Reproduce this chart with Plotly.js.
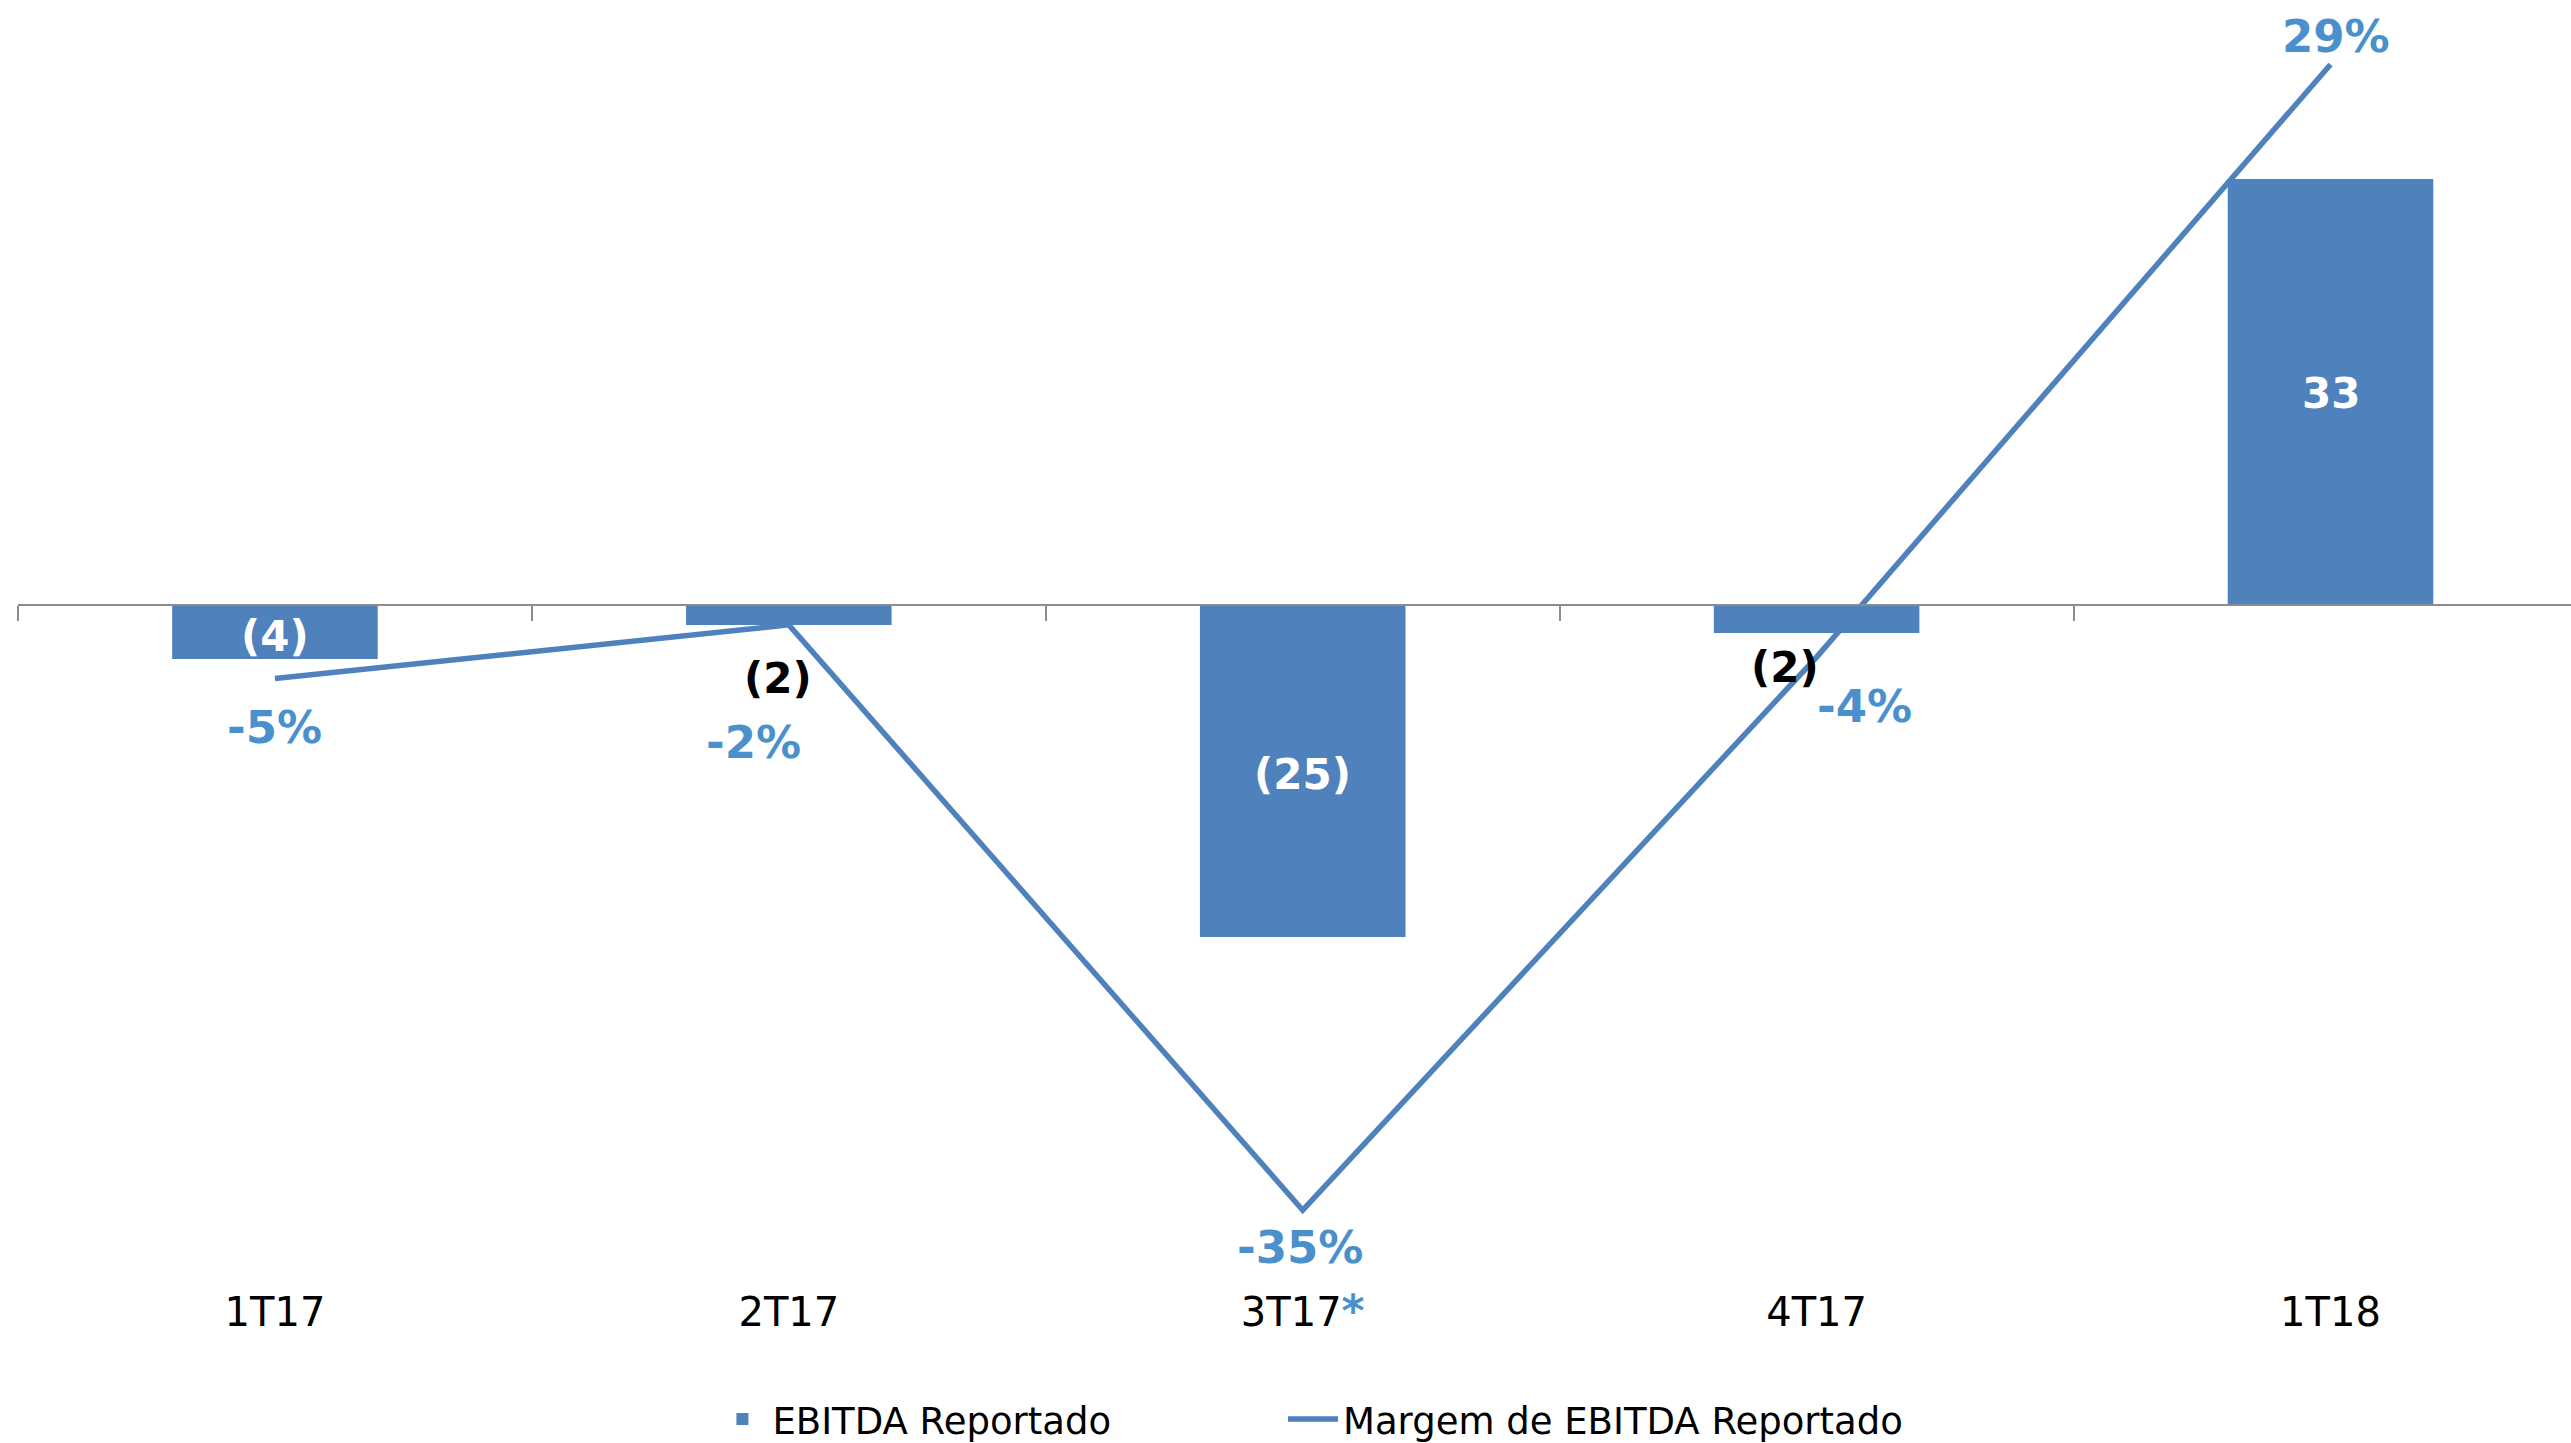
<!DOCTYPE html>
<html>
<head>
<meta charset="utf-8">
<script src="https://cdn.plot.ly/plotly-3.0.1.min.js"></script>
<style>
html,body{margin:0;padding:0;background:#fff;}
#chart{width:2571px;height:1443px;}
</style>
</head>
<body>
<div id="chart"></div>
<script>
// ---- data ----
const categories = ['1T17', '2T17', '3T17', '4T17', '1T18'];
const categoryLabels = ['1T17', '2T17', '3T17<b><span style="color:#4A90CC;font-size:44px">*</span></b>', '4T17', '1T18'];
const ebitda = [-4.17, -1.57, -25.44, -2.18, 32.56];
const ebitdaLabels = ['(4)', '(2)', '(25)', '(2)', '33'];
const margem = [-5.0, -2.0, -34.7, -3.8, 29.3];
const margemLabels = ['-5%', '-2%', '-35%', '-4%', '29%'];

// ---- style ----
const BLUE = '#4F81BD';
const TXTBLUE = '#4A90CC';
const FONT = 'DejaVu Sans, Verdana, sans-serif';
// bar label placement: inside (centre of bar) or outside (below bar end), with pixel nudges
const barInside = [true, false, true, false, true];
const barShiftX = [0, -11, 0, -32, 0];
const barShiftY = [-5, -53, -4, -34, -2];
const lineShiftX = [0, -35, -3, 48, 5];
const lineShiftY = [-49, -118, -37, -49, 28];

const annotations = [];
categories.forEach((c, i) => {
  annotations.push({
    xref: 'x', yref: 'y', x: c,
    y: barInside[i] ? ebitda[i] / 2 : ebitda[i],
    text: '<b>' + ebitdaLabels[i] + '</b>', showarrow: false,
    xshift: barShiftX[i], yshift: barShiftY[i],
    font: {family: FONT, size: 42, color: barInside[i] ? '#ffffff' : '#000000'}
  });
  annotations.push({
    xref: 'x2', yref: 'y2', x: c, y: margem[i],
    text: '<b>' + margemLabels[i] + '</b>', showarrow: false,
    xshift: lineShiftX[i], yshift: lineShiftY[i],
    font: {family: FONT, size: 45, color: TXTBLUE}
  });
});

const xr = [-0.5, 4.468];

const traces = [
  {
    type: 'bar', name: 'EBITDA Reportado', x: categories, y: ebitda,
    xaxis: 'x', yaxis: 'y', width: 0.4, legend: 'legend',
    marker: {color: BLUE, line: {width: 0}},
    hoverinfo: 'skip'
  },
  {
    type: 'scatter', mode: 'lines', name: 'Margem de EBITDA Reportado',
    x: categories, y: margem, xaxis: 'x2', yaxis: 'y2', legend: 'legend2',
    line: {color: BLUE, width: 5.5},
    hoverinfo: 'skip'
  }
];

const legendFont = {family: FONT, size: 37, color: '#000000'};

const layout = {
  width: 2571, height: 1443,
  margin: {l: 18, r: 0, t: 0, b: 163, autoexpand: false},
  paper_bgcolor: '#ffffff', plot_bgcolor: 'rgba(0,0,0,0)',
  font: {family: FONT, color: '#000000'},
  showlegend: true,
  legend: {
    orientation: 'h', x: 0.272, xanchor: 'left', y: -0.109, yanchor: 'middle',
    font: legendFont, itemwidth: 50, bgcolor: 'rgba(0,0,0,0)'
  },
  legend2: {
    orientation: 'h', x: 0.4955, xanchor: 'left', y: -0.109, yanchor: 'middle',
    font: legendFont, itemwidth: 50, bgcolor: 'rgba(0,0,0,0)'
  },
  xaxis: {
    type: 'category', range: xr, anchor: 'free', position: 0.52773,
    showline: true, linecolor: '#8c8c8c', linewidth: 2,
    ticks: 'outside', tickson: 'boundaries', ticklen: 15, tickcolor: '#8c8c8c', tickwidth: 2,
    showticklabels: false, showgrid: false, zeroline: false, fixedrange: true
  },
  xaxis2: {
    type: 'category', range: xr, overlaying: 'x', anchor: 'y2', side: 'bottom',
    tickmode: 'array', tickvals: categories, ticktext: categoryLabels,
    ticks: '', showline: false, showgrid: false, zeroline: false,
    ticklabelstandoff: 5,
    tickfont: {family: FONT, size: 40, color: '#000000'}
  },
  yaxis: {
    range: [-51.68, 46.25], visible: false, showgrid: false, zeroline: false
  },
  yaxis2: {
    range: [-38.60, 32.905], overlaying: 'y', anchor: 'x2', side: 'right',
    visible: false, showgrid: false, zeroline: false
  },
  annotations: annotations
};

Plotly.newPlot('chart', traces, layout, {displayModeBar: false, staticPlot: true});
</script>
</body>
</html>
